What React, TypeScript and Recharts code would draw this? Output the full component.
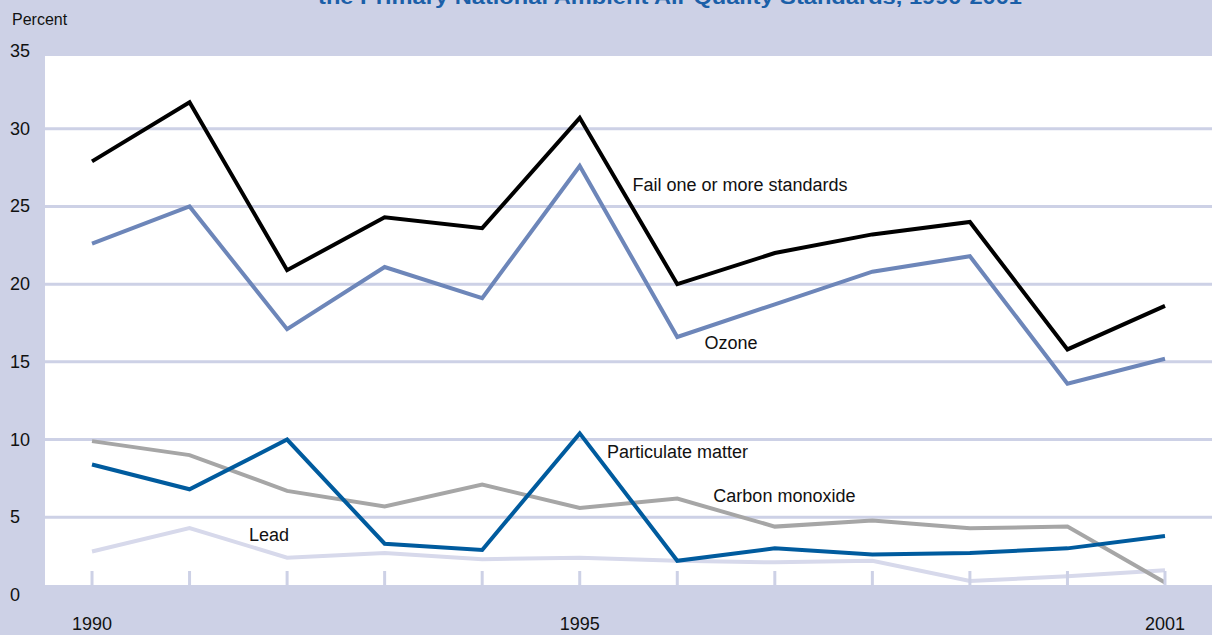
import React from "react";
import {
  LineChart,
  Line,
  XAxis,
  YAxis,
  CartesianGrid,
  ReferenceArea,
  ReferenceDot,
} from "recharts";

const years = [1990, 1991, 1992, 1993, 1994, 1995, 1996, 1997, 1998, 1999, 2000, 2001];
const failAny = [27.9, 31.7, 20.9, 24.3, 23.6, 30.7, 20.0, 22.0, 23.2, 24.0, 15.8, 18.6];
const ozone = [22.6, 25.0, 17.1, 21.1, 19.1, 27.6, 16.6, 18.7, 20.8, 21.8, 13.6, 15.2];
const particulate = [8.4, 6.8, 10.0, 3.3, 2.9, 10.4, 2.2, 3.0, 2.6, 2.7, 3.0, 3.8];
const carbonMonoxide = [9.9, 9.0, 6.7, 5.7, 7.1, 5.6, 6.2, 4.4, 4.8, 4.3, 4.4, 0.8];
const lead = [2.8, 4.3, 2.4, 2.7, 2.3, 2.4, 2.2, 2.1, 2.2, 0.9, 1.2, 1.6];

const yTicks = [0, 5, 10, 15, 20, 25, 30, 35];
const labeledYears = [1990, 1995, 2001];
const title = "the Primary National Ambient Air Quality Standards, 1990-2001";

const data = years.map((year, i) => ({
  year,
  failAny: failAny[i],
  ozone: ozone[i],
  particulate: particulate[i],
  carbonMonoxide: carbonMonoxide[i],
  lead: lead[i],
}));

const BG = "#cdd1e6";
const FONT = "'Liberation Sans', Arial, sans-serif";

// series labels, anchored in data units (left edge, vertical centre)
const seriesLabels = [
  { text: "Fail one or more standards", x: 1995.54, y: 26.4 },
  { text: "Ozone", x: 1996.28, y: 16.2 },
  { text: "Particulate matter", x: 1995.28, y: 9.2 },
  { text: "Carbon monoxide", x: 1996.37, y: 6.35 },
  { text: "Lead", x: 1991.61, y: 3.85 },
];

const XTick = (props: any) => {
  const { x, y, payload } = props;
  const show = labeledYears.includes(payload.value);
  return (
    <g>
      <line x1={x} x2={x} y1={y - 24} y2={y - 10} stroke={BG} strokeWidth={3} />
      {show && (
        <text
          x={x}
          y={y + 29}
          textAnchor="middle"
          dominantBaseline="central"
          fontFamily={FONT}
          fontSize={18}
          fill="#111"
        >
          {payload.value}
        </text>
      )}
    </g>
  );
};

const YTick = (props: any) => {
  const { y, payload } = props;
  return (
    <text
      x={10}
      y={y}
      textAnchor="start"
      dominantBaseline="central"
      fontFamily={FONT}
      fontSize={18}
      fill="#111"
    >
      {payload.value}
    </text>
  );
};

export default function App() {
  return (
    <div
      style={{
        position: "absolute",
        left: 0,
        top: 0,
        width: 1212,
        height: 635,
        background: BG,
        overflow: "hidden",
      }}
    >
      <LineChart
        width={1212}
        height={635}
        data={data}
        margin={{ top: 51, right: 0, bottom: 0, left: 0 }}
      >
        <ReferenceArea
          y1={0.64}
          y2={34.68}
          fill="#ffffff"
          fillOpacity={1}
          stroke="none"
          zIndex={-150}
        />
        <CartesianGrid vertical={false} stroke={BG} strokeWidth={3} />
        <XAxis
          dataKey="year"
          type="number"
          domain={[1989.518, 2001.482]}
          allowDataOverflow
          ticks={years}
          interval={0}
          height={40}
          axisLine={false}
          tickLine={false}
          tickSize={0}
          tickMargin={0}
          tick={<XTick />}
        />
        <YAxis
          type="number"
          domain={[0, 35]}
          ticks={yTicks}
          interval={0}
          width={45}
          axisLine={false}
          tickLine={false}
          tick={<YTick />}
        />
        <Line dataKey="lead" stroke="#d7d9eb" strokeWidth={4} dot={false} activeDot={false} isAnimationActive={false} />
        <Line dataKey="carbonMonoxide" stroke="#a6a6a6" strokeWidth={4} dot={false} activeDot={false} isAnimationActive={false} />
        <Line dataKey="particulate" stroke="#005b9e" strokeWidth={4} dot={false} activeDot={false} isAnimationActive={false} />
        <Line dataKey="ozone" stroke="#6d86b9" strokeWidth={4} dot={false} activeDot={false} isAnimationActive={false} />
        <Line dataKey="failAny" stroke="#000000" strokeWidth={4} dot={false} activeDot={false} isAnimationActive={false} />
        {seriesLabels.map((l) => (
          <ReferenceDot
            key={l.text}
            x={l.x}
            y={l.y}
            r={0}
            fill="none"
            stroke="none"
            label={(p: any) => (
              <text
                x={p.viewBox.x}
                y={p.viewBox.y}
                textAnchor="start"
                dominantBaseline="central"
                fontFamily={FONT}
                fontSize={18}
                fill="#111"
              >
                {l.text}
              </text>
            )}
          />
        ))}
      </LineChart>
      <svg
        width={1212}
        height={40}
        style={{ position: "absolute", left: 0, top: 0, pointerEvents: "none" }}
      >
        <text
          x={670}
          y={4}
          textAnchor="middle"
          fontFamily={FONT}
          fontWeight="bold"
          fontSize={20}
          fill="#1b5fa8"
          textLength={704}
          lengthAdjust="spacingAndGlyphs"
        >
          {title}
        </text>
        <text x={12} y={19} dominantBaseline="central" fontFamily={FONT} fontSize={16} fill="#111">
          Percent
        </text>
      </svg>
    </div>
  );
}
